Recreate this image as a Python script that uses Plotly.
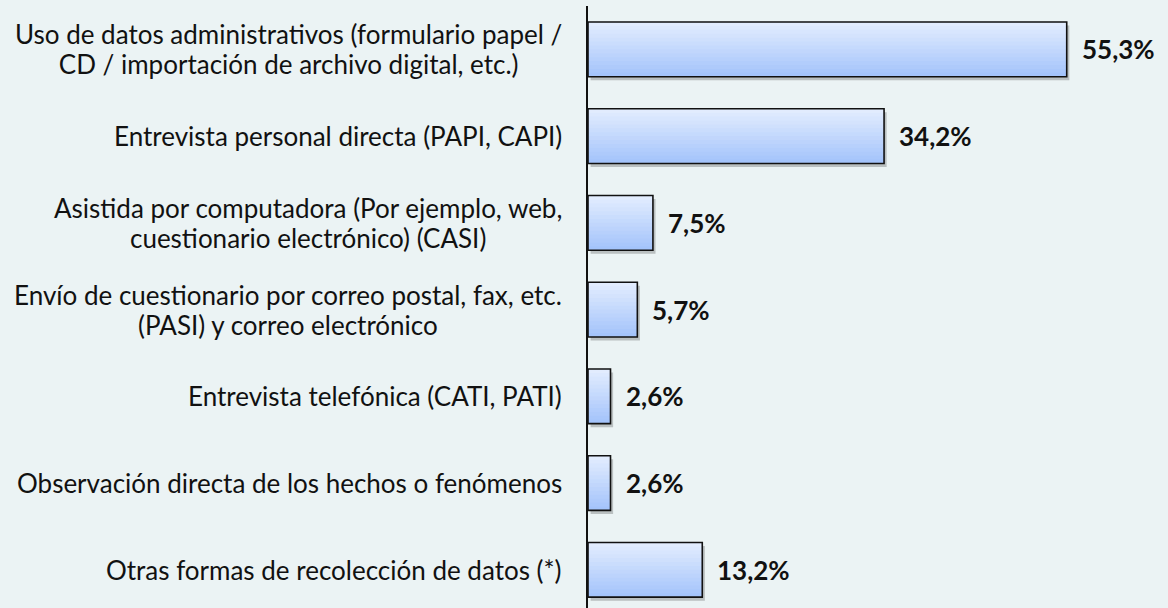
import plotly.graph_objects as go

categories = [
    "Uso de datos administrativos (formulario papel /<br>CD / importación de archivo digital, etc.)",
    "Entrevista personal directa (PAPI, CAPI)",
    "Asistida por computadora (Por ejemplo, web,<br>cuestionario electrónico) (CASI)",
    "Envío de cuestionario por correo postal, fax, etc.<br>(PASI) y correo electrónico",
    "Entrevista telefónica (CATI, PATI)",
    "Observación directa de los hechos o fenómenos",
    "Otras formas de recolección de datos (*)",
]
values = [55.3, 34.2, 7.5, 5.7, 2.6, 2.6, 13.2]
value_labels = ["55,3%", "34,2%", "7,5%", "5,7%", "2,6%", "2,6%", "13,2%"]

BAR_W = 0.63
N = 14
top_col = (226, 236, 254)
bot_col = (164, 196, 251)

fig = go.Figure()
ypos = list(range(len(categories)))

# soft shadow
fig.add_trace(go.Bar(
    x=values, y=ypos, orientation="h", base=0.3,
    width=BAR_W, offset=-BAR_W / 2 + 0.04,
    marker=dict(color="rgba(60,60,60,0.28)", line=dict(width=0)),
    hoverinfo="skip", showlegend=False,
))
# gradient slices
for k in range(N):
    t = k / (N - 1)
    c = tuple(round(top_col[i] + (bot_col[i] - top_col[i]) * t) for i in range(3))
    fig.add_trace(go.Bar(
        x=values, y=ypos, orientation="h",
        width=BAR_W - k * BAR_W / N, offset=-BAR_W / 2 + k * BAR_W / N,
        marker=dict(color="rgb(%d,%d,%d)" % c, line=dict(width=0)),
        hoverinfo="skip", showlegend=False,
    ))
# outline
fig.add_trace(go.Bar(
    x=values, y=ypos, orientation="h",
    width=BAR_W, offset=-BAR_W / 2,
    marker=dict(color="rgba(0,0,0,0)", line=dict(color="#111111", width=1.6)),
    showlegend=False,
))

for i, cat in enumerate(categories):
    txt = "<br>".join("<span style='font-size:26px'>%s</span>" % ln for ln in cat.split("<br>"))
    fig.add_annotation(x=0, y=i, xref="paper", yref="y", text=txt,
                       xanchor="right", yanchor="middle", align="center",
                       xshift=-24, showarrow=False,
                       font=dict(family="Lato", size=23, color="#111111"))

for i, (v, lab) in enumerate(zip(values, value_labels)):
    fig.add_annotation(x=v, y=i, xref="x", yref="y", text="<b>%s</b>" % lab,
                       xanchor="left", yanchor="middle", xshift=13, showarrow=False,
                       font=dict(family="Lato", size=26, color="#111111"))

fig.update_layout(
    width=1168, height=608,
    margin=dict(l=588, r=0, t=6, b=0),
    paper_bgcolor="#ebf3f4", plot_bgcolor="rgba(0,0,0,0)",
    barmode="overlay",
    xaxis=dict(range=[0, 67], visible=False, showgrid=False, zeroline=False),
    yaxis=dict(range=[6.44, -0.5], showticklabels=False, showgrid=False,
               zeroline=False, showline=True, linecolor="#111111", linewidth=2,
               ticks=""),
)

fig.write_html("out.html", config={"displayModeBar": False},
               post_script="document.body.style.margin='0';document.body.style.background='#ebf3f4';")
